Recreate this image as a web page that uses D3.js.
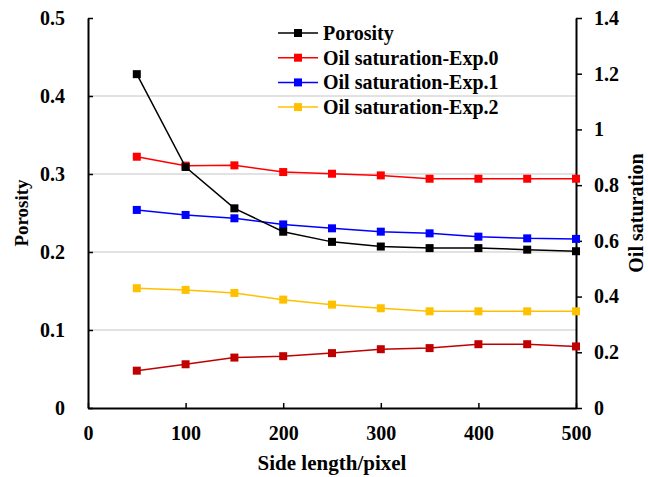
<!DOCTYPE html>
<html>
<head>
<meta charset="utf-8">
<script src="https://cdn.jsdelivr.net/npm/d3@7"></script>
<style>
  body { margin: 0; background: #fff; }
  text { font-family: "Liberation Serif", "Times New Roman", serif; font-weight: bold; }
</style>
</head>
<body>
<div id="chart"></div>
<script>
"use strict";

// side length (pixel)
const sideLength = [50, 100, 150, 200, 250, 300, 350, 400, 450, 500];
// left axis
const porosity = [0.428, 0.309, 0.256, 0.226, 0.213, 0.207, 0.205, 0.205, 0.203, 0.201];
// right axis
const oilExp0 = [0.902, 0.870, 0.871, 0.847, 0.841, 0.835, 0.823, 0.823, 0.823, 0.823];
const oilExp1 = [0.711, 0.693, 0.681, 0.659, 0.645, 0.633, 0.627, 0.615, 0.609, 0.607];
const oilExp2 = [0.430, 0.424, 0.413, 0.389, 0.371, 0.358, 0.347, 0.347, 0.347, 0.347];
const oilExtra = [0.134, 0.157, 0.181, 0.186, 0.197, 0.211, 0.215, 0.229, 0.229, 0.221];

const xTicks = [0, 100, 200, 300, 400, 500];
const leftTicks = [0, 0.1, 0.2, 0.3, 0.4, 0.5];
const rightTicks = [0, 0.2, 0.4, 0.6, 0.8, 1, 1.2, 1.4];

const width = 648, height = 477;
const margin = {top: 18, right: 72, bottom: 69, left: 88};

const svg = d3.select("#chart").append("svg")
    .attr("width", width)
    .attr("height", height);

const x = d3.scaleLinear().domain([0, 500]).range([margin.left, width - margin.right]);
const yL = d3.scaleLinear().domain([0, 0.5]).range([height - margin.bottom, margin.top]);
const yR = d3.scaleLinear().domain([0, 1.4]).range([height - margin.bottom, margin.top]);

// gridlines
svg.append("g")
    .selectAll("line")
    .data(leftTicks.filter(d => d > 0 && d < 0.5))
    .enter().append("line")
    .attr("x1", x(0)).attr("x2", x(500))
    .attr("y1", d => yL(d)).attr("y2", d => yL(d))
    .style("stroke", "#d9d9d9")
    .style("stroke-width", 1.5);

// axes
const xAxis = svg.append("g")
    .attr("transform", `translate(0,${yL(0)})`)
    .call(d3.axisBottom(x).tickValues(xTicks).tickSizeInner(-5).tickSizeOuter(0).tickPadding(18));

const leftAxis = svg.append("g")
    .attr("transform", `translate(${x(0)},0)`)
    .call(d3.axisLeft(yL).tickValues(leftTicks).tickSizeInner(-5).tickSizeOuter(0).tickPadding(23)
      .tickFormat(d => d === 0 ? "0" : d3.format(".1f")(d)));

const rightAxis = svg.append("g")
    .attr("transform", `translate(${x(500)},0)`)
    .call(d3.axisRight(yR).tickValues(rightTicks).tickSizeInner(6).tickSizeOuter(0).tickPadding(12)
      .tickFormat(d => (d === 0 || d === 1) ? String(d) : d3.format(".1f")(d)));

[xAxis, leftAxis, rightAxis].forEach(function(a){
  a.select(".domain").style("stroke", "#000").style("stroke-width", 2);
  a.selectAll(".tick line").style("stroke", "#000").style("stroke-width", 1.5);
  a.selectAll(".tick text")
      .style("font-size", "20px")
      .style("font-family", "'Liberation Serif', serif")
      .style("font-weight", "bold")
      .style("fill", "#000");
});

// series
const series = [
  {name: "Oil saturation-Exp.2", values: oilExp2, color: "#FFC000", y: yR},
  {name: "", values: oilExtra, color: "#C00000", y: yR},
  {name: "Oil saturation-Exp.1", values: oilExp1, color: "#0000FF", y: yR},
  {name: "Oil saturation-Exp.0", values: oilExp0, color: "#FF0000", y: yR},
  {name: "Porosity", values: porosity, color: "#000000", y: yL}
];

series.forEach(function(s){
  const pts = sideLength.map((d, i) => [d, s.values[i]]);
  const line = d3.line().x(d => x(d[0])).y(d => s.y(d[1]));
  svg.append("path")
      .datum(pts)
      .attr("d", line)
      .style("fill", "none")
      .style("stroke", s.color)
      .style("stroke-width", 1.5);
  svg.append("g")
      .selectAll("rect")
      .data(pts)
      .enter().append("rect")
      .attr("x", d => x(d[0]) - 4)
      .attr("y", d => s.y(d[1]) - 4)
      .attr("width", 8)
      .attr("height", 8)
      .style("fill", s.color);
});

// legend
const legendItems = [
  {name: "Porosity", color: "#000000"},
  {name: "Oil saturation-Exp.0", color: "#FF0000"},
  {name: "Oil saturation-Exp.1", color: "#0000FF"},
  {name: "Oil saturation-Exp.2", color: "#FFC000"}
];
const legend = svg.append("g").attr("transform", "translate(278,33)");
const rows = legend.selectAll("g")
    .data(legendItems)
    .enter().append("g")
    .attr("transform", (d, i) => `translate(0,${i * 24.7})`);
rows.append("line")
    .attr("x1", 0).attr("x2", 40).attr("y1", 0).attr("y2", 0)
    .style("stroke", d => d.color)
    .style("stroke-width", 1.5);
rows.append("rect")
    .attr("x", 16).attr("y", -4).attr("width", 8).attr("height", 8)
    .style("fill", d => d.color);
rows.append("text")
    .attr("x", 45)
    .attr("y", 0)
    .attr("dy", "0.35em")
    .style("font-size", "20px")
    .text(d => d.name);

// axis titles
svg.append("text")
    .attr("x", x(250))
    .attr("y", 470)
    .attr("text-anchor", "middle")
    .style("font-size", "21px")
    .text("Side length/pixel");

svg.append("text")
    .attr("transform", `translate(28,${(margin.top + height - margin.bottom) / 2}) rotate(-90)`)
    .attr("text-anchor", "middle")
    .style("font-size", "19px")
    .text("Porosity");

svg.append("text")
    .attr("transform", `translate(643,${(margin.top + height - margin.bottom) / 2}) rotate(-90)`)
    .attr("text-anchor", "middle")
    .style("font-size", "20px")
    .text("Oil saturation");
</script>
</body>
</html>
